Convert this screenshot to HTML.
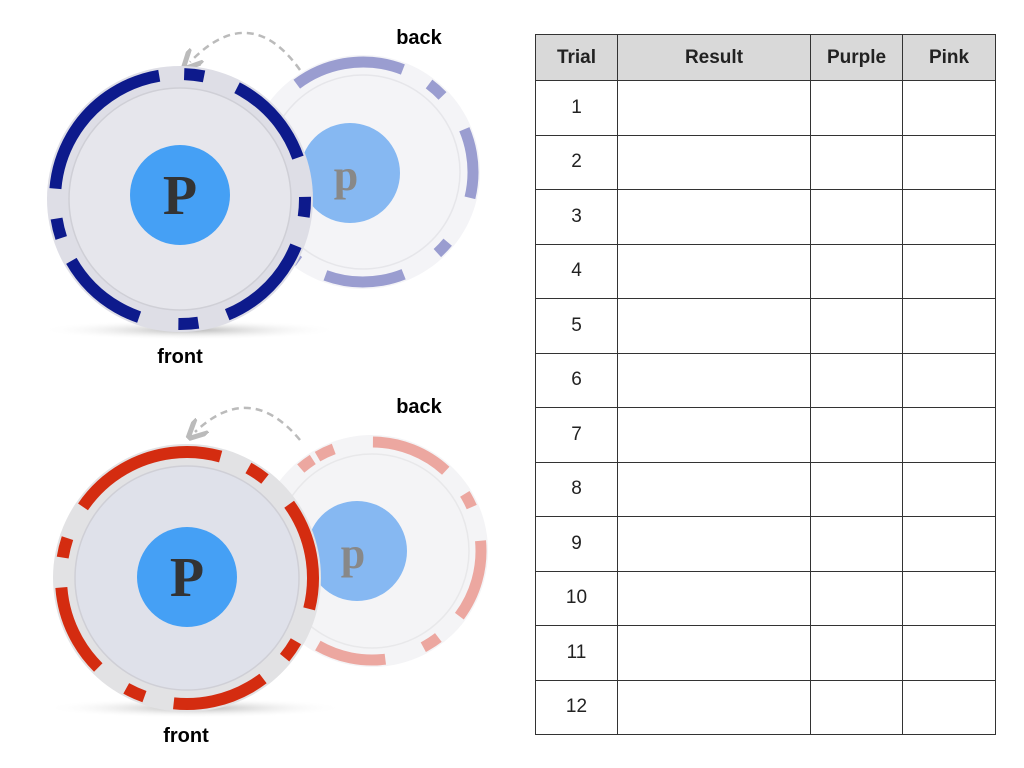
<!DOCTYPE html>
<html><head><meta charset="utf-8"><style>
body{margin:0;background:#fff;width:1024px;height:768px;overflow:hidden;position:relative;font-family:"Liberation Sans",Arial,sans-serif}
svg{position:absolute;left:0;top:0}
.m{font-family:"Liberation Serif","DejaVu Serif",serif;font-weight:bold}
table{position:absolute;left:535px;top:34px;border-collapse:collapse}
td,th{border:1px solid #333;text-align:center;font-size:19px;color:#222;padding:0}
th{background:#d9d9d9;font-weight:bold;height:45px;font-size:19px}
td{height:53.5px}
</style></head><body>
<svg width="1024" height="768">
<defs>
<radialGradient id="sh"><stop offset="0" stop-color="#999" stop-opacity=".7"/><stop offset="1" stop-color="#fff" stop-opacity="0"/></radialGradient>
<marker id="ah" markerWidth="8" markerHeight="8" refX="4" refY="4" orient="auto"><path d="M0,0 L8,4 L0,8" fill="none" stroke="#bbb" stroke-width="2"/></marker>
</defs>
<!-- top -->
<ellipse cx="190" cy="330" rx="150" ry="10" fill="url(#sh)"/>
<circle cx="363" cy="172" r="117" fill="#f4f4f7"/>
<circle cx="363" cy="172" r="97" fill="none" stroke="#e6e6ea" stroke-width="1.5"/>
<circle cx="363" cy="172" r="110" fill="none" stroke="#9a9dd0" stroke-width="11" stroke-dasharray="60 30 18 40 70 50 15 40 80 30 18 40" transform="rotate(-100 363 172)"/>
<circle cx="350" cy="173" r="50" fill="#86b8f2"/>
<text x="346" y="190" class="m" font-size="44" fill="#888" text-anchor="middle">p</text>
<path d="M300,70 Q250,0 190,62" fill="none" stroke="#bbb" stroke-width="2.5" stroke-dasharray="7 5" marker-end="url(#ah)"/>
<circle cx="180" cy="199" r="133" fill="#dedee6"/>
<circle cx="180" cy="199" r="111" fill="#e6e6ec" stroke="#cfcfd6" stroke-width="1.5"/>
<circle cx="180" cy="199" r="125" fill="none" stroke="#0d1a8c" stroke-width="12" stroke-dasharray="110 25 20 35 95 40 20 30 100 30 20 40 90 25 20 30" transform="rotate(-150 180 199)"/>
<circle cx="180" cy="195" r="50" fill="#45a0f5"/>
<text x="180" y="214" class="m" font-size="56" fill="#333" text-anchor="middle">P</text>
<text x="419" y="44" font-weight="bold" font-size="20" text-anchor="middle">back</text>
<text x="180" y="363" font-weight="bold" font-size="20" text-anchor="middle">front</text>
<!-- bottom -->
<ellipse cx="195" cy="708" rx="150" ry="10" fill="url(#sh)"/>
<circle cx="372" cy="551" r="116" fill="#f4f4f6"/>
<circle cx="372" cy="551" r="97" fill="none" stroke="#e8e8ea" stroke-width="1.5"/>
<circle cx="372" cy="551" r="109" fill="none" stroke="#eca7a0" stroke-width="11" stroke-dasharray="18 40 80 30 15 35 80 30 18 40 70 40" transform="rotate(-120 372 551)"/>
<circle cx="357" cy="551" r="50" fill="#86b8f2"/>
<text x="353" y="568" class="m" font-size="44" fill="#888" text-anchor="middle">p</text>
<path d="M300,440 Q250,380 195,432" fill="none" stroke="#bbb" stroke-width="2.5" stroke-dasharray="7 5" marker-end="url(#ah)"/>
<circle cx="187" cy="578" r="134" fill="#e2e2e4"/>
<circle cx="187" cy="578" r="112" fill="#dfe1ea" stroke="#cfcfd6" stroke-width="1.5"/>
<circle cx="187" cy="578" r="126" fill="none" stroke="#d42c10" stroke-width="12" stroke-dasharray="100 30 20 35 110 35 20 30 95 30 20 35 90 30 20 35" transform="rotate(-120 187 578)"/>
<circle cx="187" cy="577" r="50" fill="#45a0f5"/>
<text x="187" y="596" class="m" font-size="56" fill="#333" text-anchor="middle">P</text>
<text x="419" y="413" font-weight="bold" font-size="20" text-anchor="middle">back</text>
<text x="186" y="742" font-weight="bold" font-size="20" text-anchor="middle">front</text>
</svg>
<table>
<tr><th style="width:81px">Trial</th><th style="width:192px">Result</th><th style="width:91px">Purple</th><th style="width:92px">Pink</th></tr>
<tr><td>1</td><td></td><td></td><td></td></tr>
<tr><td>2</td><td></td><td></td><td></td></tr>
<tr><td>3</td><td></td><td></td><td></td></tr>
<tr><td>4</td><td></td><td></td><td></td></tr>
<tr><td>5</td><td></td><td></td><td></td></tr>
<tr><td>6</td><td></td><td></td><td></td></tr>
<tr><td>7</td><td></td><td></td><td></td></tr>
<tr><td>8</td><td></td><td></td><td></td></tr>
<tr><td>9</td><td></td><td></td><td></td></tr>
<tr><td>10</td><td></td><td></td><td></td></tr>
<tr><td>11</td><td></td><td></td><td></td></tr>
<tr><td>12</td><td></td><td></td><td></td></tr>
</table>
</body></html>
